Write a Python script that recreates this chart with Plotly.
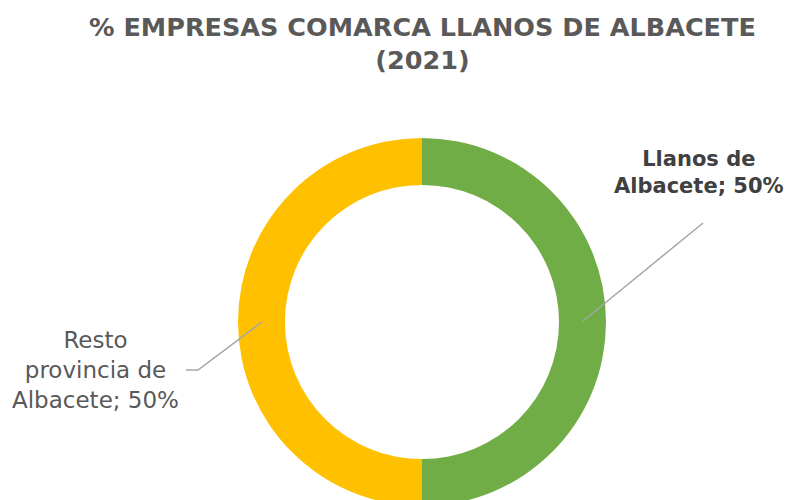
import plotly.graph_objects as go

categories = ["Llanos de Albacete", "Resto provincia de Albacete"]
values = [50, 50]
colors = ["#70AD47", "#FFC000"]
title_text = "% EMPRESAS COMARCA LLANOS DE ALBACETE<br>(2021)"

W, H = 795, 500
OFF = 8  # page body margin
cx, cy, r = 422 - OFF, 322 - OFF, 184

fig = go.Figure(go.Pie(
    labels=categories, values=values, hole=0.745, sort=False,
    direction="clockwise", rotation=0,
    marker=dict(colors=colors, line=dict(width=0)),
    textinfo="none", hoverinfo="label+percent", showlegend=False,
    domain=dict(x=[(cx - r) / W, (cx + r) / W], y=[(H - cy - r) / H, (H - cy + r) / H]),
))

def px(x):
    return (x - OFF) / W

def py(y):
    return 1 - (y - OFF) / H

font_family = "DejaVu Sans"
fig.update_layout(
    width=W, height=H, margin=dict(l=0, r=0, t=0, b=0),
    paper_bgcolor="white", plot_bgcolor="white",
    annotations=[
        dict(text="<b>" + title_text + "</b>", x=px(422), y=py(44), xref="paper", yref="paper",
             showarrow=False, font=dict(family=font_family, size=25.5, color="#595959"),
             xanchor="center", yanchor="middle"),
        dict(text="<b>Llanos de<br>Albacete; %d%%</b>" % values[0], x=px(699), y=py(172),
             xref="paper", yref="paper", showarrow=False,
             font=dict(family=font_family, size=21, color="#404040"),
             xanchor="center", yanchor="middle"),
        dict(text="Resto<br>provincia de<br>Albacete; %d%%" % values[1], x=px(95), y=py(370),
             xref="paper", yref="paper", showarrow=False,
             font=dict(family=font_family, size=23, color="#595959"),
             xanchor="center", yanchor="middle"),
    ],
    shapes=[
        dict(type="line", xref="paper", yref="paper", x0=px(583), y0=py(321), x1=px(703), y1=py(223),
             line=dict(color="#A6A6A6", width=1.5)),
        dict(type="path", xref="paper", yref="paper",
             path="M %f %f L %f %f L %f %f" % (px(262), py(322), px(198), py(370), px(186), py(370)),
             line=dict(color="#A6A6A6", width=1.5)),
    ],
)

fig.write_html("out.html")
